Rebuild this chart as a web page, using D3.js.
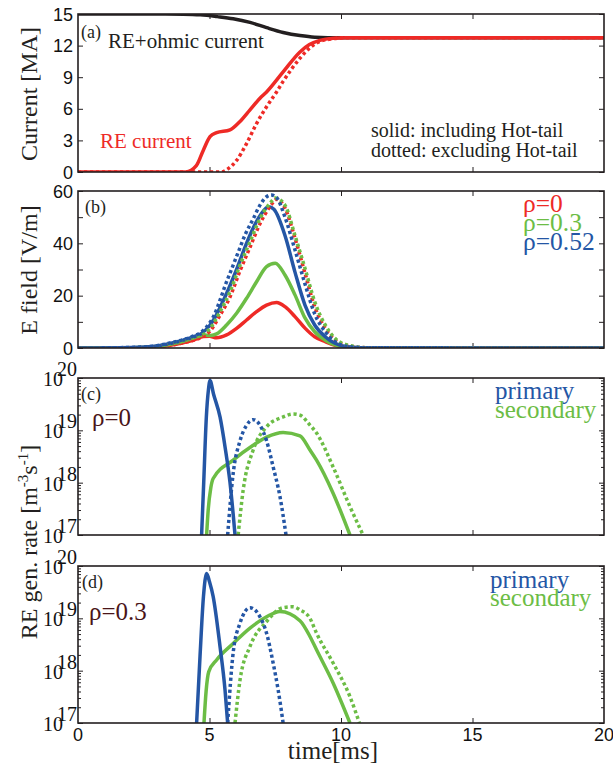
<!DOCTYPE html>
<html><head><meta charset="utf-8">
<script src="https://cdn.jsdelivr.net/npm/d3@7"></script>
<style>body{margin:0;background:#fff} svg{display:block}</style>
</head><body>
<svg id="chart" width="613" height="767"></svg>
<script>
// ---------- data ----------
const timeTicks = [0, 5, 10, 15, 20];
const currentTicks = [0, 3, 6, 9, 12, 15];
const efieldTicks = [0, 10, 20, 30, 40, 50, 60];
const efieldLabels = [0, 20, 40, 60];
const rateTicks = [1e17, 1e18, 1e19, 1e20];

// panel (a): [time ms, current MA]
const totalCurrent = [[0,15],[3,15],[4,14.98],[4.65,14.92],[5.3,14.75],[5.9,14.55],[6.54,14.2],[7.17,13.7],[7.8,13.25],[8.44,12.95],[9,12.8],[10,12.75],[20,12.75]];
const reCurrentHot = [[0,0],[4.1,0],[4.5,0.6],[4.77,2.1],[5.02,3.35],[5.27,3.73],[5.78,4.0],[6.16,4.8],[6.54,5.9],[6.92,7.0],[7.17,7.6],[7.8,9.5],[8.44,11.4],[8.8,12.1],[9.2,12.5],[9.7,12.7],[10.2,12.75],[20,12.75]];
const reCurrentNoHot = [[0,0],[5.45,0],[5.7,0.3],[6.03,1.1],[6.41,2.7],[6.79,4.6],[7.17,6.2],[7.55,7.6],[7.8,8.6],[8.44,10.8],[8.82,11.8],[9.2,12.4],[9.7,12.65],[10.2,12.75],[20,12.75]];

// panel (b): [time ms, E V/m]
const eRho0Hot = [[0,0],[2,0.05],[3,0.4],[3.5,1.0],[4,2.0],[4.4,3.0],[4.77,4.4],[5.0,4.5],[5.27,3.9],[5.65,5.0],[6.03,7.5],[6.41,10.7],[6.79,13.9],[7.17,16.4],[7.55,17.4],[7.87,15.8],[8.25,12],[8.63,7.6],[9.0,4.3],[9.4,2.4],[9.77,1.0],[10.3,0.3],[11,0.05],[20,0]];
const eRho03Hot = [[0,0],[2,0.1],[3,0.6],[3.5,1.4],[4,2.6],[4.4,3.9],[4.77,5.0],[5.05,4.8],[5.27,5.4],[5.65,8.8],[6.03,13.3],[6.41,19],[6.79,25.3],[7.17,31.1],[7.5,32.4],[7.87,27.9],[8.25,20.3],[8.63,11.5],[9.0,6.2],[9.4,3.0],[9.77,1.2],[10.3,0.3],[11,0.05],[20,0]];
const eRho052Hot = [[0,0],[2,0.2],[3,0.8],[3.5,1.7],[4,3.0],[4.4,4.3],[4.7,5.6],[5.0,8.5],[5.2,11.5],[5.4,15.5],[5.7,22],[6.03,30],[6.35,38.5],[6.67,46],[6.98,51.5],[7.25,54],[7.45,53],[7.87,43],[8.25,29],[8.63,16.4],[9.0,8.8],[9.4,4.3],[9.77,1.8],[10.3,0.4],[11,0.05],[20,0]];
const eRho0NoHot = [[0,0],[2,0.1],[3,0.4],[3.5,1.0],[4,2.0],[4.4,3.0],[4.7,4.2],[5.02,6.5],[5.4,12.5],[5.78,19.5],[6.16,29.5],[6.54,38.5],[6.92,47.5],[7.3,54],[7.55,56.8],[7.87,53.5],[8.25,42],[8.63,28.7],[9.0,15.8],[9.4,7.6],[9.77,3.0],[10.3,0.8],[11,0.1],[20,0]];
const eRho03NoHot = [[0,0],[2,0.1],[3,0.6],[3.5,1.4],[4,2.6],[4.4,3.9],[4.7,5.0],[5.02,7.5],[5.4,13.9],[5.78,21.5],[6.16,31.7],[6.54,40.6],[6.92,49.5],[7.3,55.3],[7.5,57.3],[7.87,54.6],[8.25,43],[8.63,30.5],[9.0,17.7],[9.4,8.8],[9.77,3.7],[10.3,1.0],[11,0.1],[20,0]];
const eRho052NoHot = [[0,0],[2,0.2],[3,0.9],[3.5,1.9],[4,3.2],[4.4,4.6],[4.7,6.2],[5.0,9.5],[5.2,13],[5.4,18.3],[5.6,24],[5.85,30.4],[6.1,36.8],[6.35,43.2],[6.67,49.5],[6.92,54.6],[7.17,57.8],[7.35,58.5],[7.55,57.5],[7.87,50],[8.25,37.5],[8.63,24.5],[9.0,13],[9.4,6.2],[9.77,2.4],[10.3,0.5],[11,0.1],[20,0]];

// panel (c) rho=0: [time ms, rate m^-3 s^-1]
const primRho0Hot = [[4.70,1e17],[4.78,1e18],[4.88,1.8e19],[4.96,6e19],[5.02,9e19],[5.15,5e19],[5.4,1.8e19],[5.6,4.5e18],[5.78,1e18],[5.9,2.5e17],[5.97,1e17]];
const primRho0NoHot = [[5.69,1e17],[5.9,1.5e18],[6.16,6.3e18],[6.41,1.25e19],[6.66,1.6e19],[6.92,1.25e19],[7.17,6.3e18],[7.42,2e18],[7.68,5.4e17],[7.91,1e17]];
const secRho0Hot = [[4.89,1e17],[4.95,3e17],[5.05,8e17],[5.14,1.2e18],[5.9,2.7e18],[6.66,5.2e18],[7.17,7.4e18],[7.8,9.1e18],[8.44,7.8e18],[8.82,4.2e18],[9.07,2.7e18],[9.7,6.3e17],[10.34,1e17]];
const secRho0NoHot = [[6.09,1e17],[6.28,7.2e17],[6.66,4.2e18],[7.17,1.17e19],[7.8,1.8e19],[8.18,2.05e19],[8.44,1.95e19],[8.82,1.26e19],[9.07,8.9e18],[9.7,2e18],[10.34,3.5e17],[10.84,1e17]];

// panel (d) rho=0.3
const primRho03Hot = [[4.51,1e17],[4.64,1.9e18],[4.77,2.6e19],[4.89,7.2e19],[5.0,5e19],[5.14,2.6e19],[5.4,2.9e18],[5.59,4.3e17],[5.69,1e17]];
const primRho03NoHot = [[5.69,1e17],[5.9,2.2e18],[6.16,8.1e18],[6.54,1.6e19],[6.92,1.07e19],[7.17,5.2e18],[7.42,1.4e18],[7.61,4.3e17],[7.8,1e17]];
const secRho03Hot = [[4.79,1e17],[4.87,4e17],[4.97,9.5e17],[5.27,1.6e18],[5.9,3.3e18],[6.54,6.5e18],[7.17,1.07e19],[7.68,1.35e19],[8.44,9e18],[8.82,4.5e18],[9.07,2.5e18],[9.7,5.8e17],[10.34,1e17]];
const secRho03NoHot = [[5.97,1e17],[6.16,6.6e17],[6.54,2.9e18],[7.17,8.7e18],[7.8,1.6e19],[8.18,1.66e19],[8.44,1.45e19],[8.82,1e19],[9.07,5.2e18],[9.7,1.4e18],[10.34,3.2e17],[10.7,1e17]];

// ---------- drawing ----------
const RED = "#ee2a26", GREEN = "#6cbd45", BLUE = "#2456a5", BLACK = "#231f20", MAROON = "#4a1518";
const serif = "'Liberation Serif','Times New Roman',Times,serif";
const sans = "'Liberation Sans',Arial,Helvetica,sans-serif";
const svg = d3.select("#chart");
svg.append("rect").attr("width", 613).attr("height", 767).attr("fill", "#fff");

const x = d3.scaleLinear().domain([0, 20]).range([78, 604]);
const panels = {
  a: [14, 172], b: [191, 348], c: [378, 535], d: [566, 723]
};

function makePanel(key, y, isLog, yTickVals) {
  const [top, bottom] = panels[key];
  const g = svg.append("g");
  g.append("clipPath").attr("id", "clip" + key)
    .append("rect").attr("x", x(0)).attr("y", top).attr("width", x(20) - x(0)).attr("height", bottom - top);
  const strip = s => s.call(a => a.select(".domain").remove()).selectAll("line").attr("stroke", BLACK).attr("stroke-width", 1);
  g.append("g").attr("transform", `translate(0,${bottom})`)
    .call(d3.axisBottom(x).tickValues([5, 10, 15]).tickSizeInner(-5).tickSizeOuter(0).tickFormat(""))
    .call(strip);
  g.append("g").attr("transform", `translate(0,${top})`)
    .call(d3.axisTop(x).tickValues([5, 10, 15]).tickSizeInner(-5).tickSizeOuter(0).tickFormat(""))
    .call(strip);
  g.append("g").attr("transform", `translate(${x(0)},0)`)
    .call(d3.axisLeft(y).tickValues(yTickVals).tickSizeInner(-5).tickSizeOuter(0).tickFormat(""))
    .call(strip);
  g.append("g").attr("transform", `translate(${x(20)},0)`)
    .call(d3.axisRight(y).tickValues(yTickVals).tickSizeInner(-5).tickSizeOuter(0).tickFormat(""))
    .call(strip);
  if (isLog) {
    const minors = [];
    rateTicks.slice(0, -1).forEach(p => { for (let k = 2; k <= 9; k++) minors.push(p * k); });
    g.append("g").attr("transform", `translate(${x(0)},0)`)
      .call(d3.axisLeft(y).tickValues(minors).tickSizeInner(-3).tickSizeOuter(0).tickFormat(""))
      .call(strip);
    g.append("g").attr("transform", `translate(${x(20)},0)`)
      .call(d3.axisRight(y).tickValues(minors).tickSizeInner(-3).tickSizeOuter(0).tickFormat(""))
      .call(strip);
  }
  const lines = g.append("g").attr("clip-path", `url(#clip${key})`);
  const border = () => g.append("rect").attr("x", x(0)).attr("y", top)
    .attr("width", x(20) - x(0)).attr("height", bottom - top)
    .attr("fill", "none").attr("stroke", BLACK).attr("stroke-width", 1.6);
  return { g, lines, border, top, bottom };
}

function drawLine(p, y, data, color, dotted) {
  const line = d3.line().x(d => x(d[0])).y(d => y(d[1])).curve(d3.curveMonotoneX);
  p.lines.append("path").datum(data).attr("d", line)
    .attr("fill", "none").attr("stroke", color).attr("stroke-width", 3.5)
    .attr("stroke-dasharray", dotted ? "3.2,2.8" : null);
}

function txt(s, xx, yy, size, color, family, anchor) {
  return svg.append("text").attr("x", xx).attr("y", yy).attr("font-size", size)
    .style("font-family", family || serif).attr("fill", color || BLACK)
    .attr("text-anchor", anchor || "start").text(s);
}

// Panel (a)
const ya = d3.scaleLinear().domain([0, 15]).range(panels.a.slice().reverse());
const pa = makePanel("a", ya, false, currentTicks);
drawLine(pa, ya, totalCurrent, BLACK, false);
drawLine(pa, ya, reCurrentNoHot, RED, true);
drawLine(pa, ya, reCurrentHot, RED, false);
pa.border();
currentTicks.forEach(v => txt(String(v), 73, ya(v) + 6.5, 18, "#111", sans, "end"));
txt("(a)", 81, 38, 18);
txt("RE+ohmic current", 108, 48, 21, BLACK);
txt("RE current", 100, 148, 21, RED);
txt("solid: including Hot-tail", 371, 137, 20, BLACK);
txt("dotted: excluding Hot-tail", 371, 157, 20, BLACK);

// Panel (b)
const yb = d3.scaleLinear().domain([0, 60]).range(panels.b.slice().reverse());
const pb = makePanel("b", yb, false, efieldTicks);
drawLine(pb, yb, eRho0Hot, RED, false);
drawLine(pb, yb, eRho03Hot, GREEN, false);
drawLine(pb, yb, eRho052Hot, BLUE, false);
drawLine(pb, yb, eRho0NoHot, RED, true);
drawLine(pb, yb, eRho03NoHot, GREEN, true);
drawLine(pb, yb, eRho052NoHot, BLUE, true);
pb.border();
efieldLabels.forEach(v => txt(String(v), 73, yb(v) + 6.5, 18, "#111", sans, "end"));
txt("(b)", 85, 213, 18);
txt("ρ=0", 523, 212, 25.5, RED);
txt("ρ=0.3", 523, 231, 25.5, GREEN);
txt("ρ=0.52", 523, 250, 25.5, BLUE);

// Log panels
function logLabels(y) {
  rateTicks.forEach(v => {
    const yy = y(v);
    txt("10", 43, yy + 8, 20, "#111");
    txt(String(Math.round(Math.log10(v))), 77, yy - 2, 20, "#111", serif, "end");
  });
}
const yc = d3.scaleLog().domain([1e17, 1e20]).range(panels.c.slice().reverse());
const pc = makePanel("c", yc, true, rateTicks);
drawLine(pc, yc, secRho0Hot, GREEN, false);
drawLine(pc, yc, secRho0NoHot, GREEN, true);
drawLine(pc, yc, primRho0Hot, BLUE, false);
drawLine(pc, yc, primRho0NoHot, BLUE, true);
pc.border();
logLabels(yc);
txt("(c)", 81, 400, 18);
txt("ρ=0", 92, 426, 25, MAROON);
txt("primary", 495, 399, 25, BLUE);
txt("secondary", 495, 418, 25, GREEN);

const yd = d3.scaleLog().domain([1e17, 1e20]).range(panels.d.slice().reverse());
const pd = makePanel("d", yd, true, rateTicks);
drawLine(pd, yd, secRho03Hot, GREEN, false);
drawLine(pd, yd, secRho03NoHot, GREEN, true);
drawLine(pd, yd, primRho03Hot, BLUE, false);
drawLine(pd, yd, primRho03NoHot, BLUE, true);
pd.border();
logLabels(yd);
txt("(d)", 82, 588, 18);
txt("ρ=0.3", 89, 620, 25, MAROON);
txt("primary", 490, 588, 25, BLUE);
txt("secondary", 490, 606, 25, GREEN);

// x tick labels
timeTicks.forEach(v => txt(String(v), x(v), 741, 18, "#111", sans, "middle"));
txt("time[ms]", 333, 759, 25, BLACK, serif, "middle");

// y axis titles
function ylab(yy, build) {
  const t = svg.append("text").attr("transform", `translate(37,${yy}) rotate(-90)`)
    .attr("text-anchor", "middle").attr("font-size", 24).style("font-family", serif).attr("fill", BLACK);
  build(t);
}
ylab(94, t => t.text("Current [MA]"));
ylab(270, t => t.text("E field [V/m]"));
ylab(542, t => {
  t.append("tspan").text("RE gen. rate [m");
  t.append("tspan").attr("dy", -9).attr("font-size", 15).text("-3");
  t.append("tspan").attr("dy", 9).text("s");
  t.append("tspan").attr("dy", -9).attr("font-size", 15).text("-1");
  t.append("tspan").attr("dy", 9).text("]");
});
</script>
</body></html>
